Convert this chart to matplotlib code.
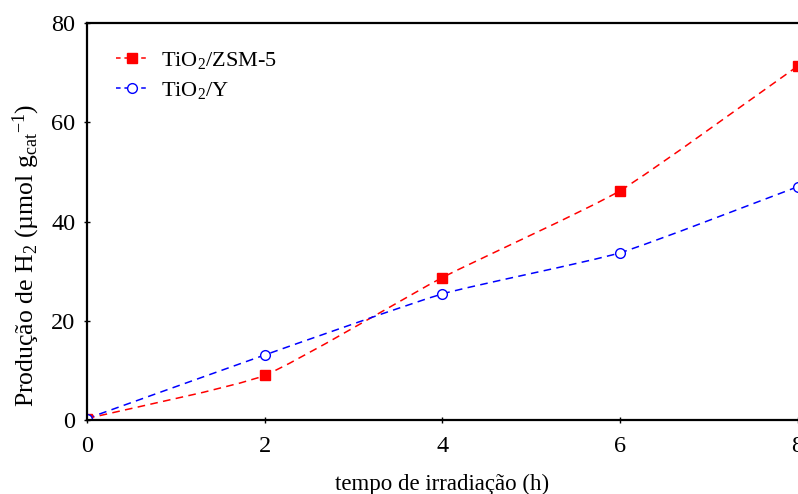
import numpy as np
import matplotlib
matplotlib.use('Agg')
import matplotlib.pyplot as plt
from matplotlib.path import Path
from matplotlib.patches import PathPatch
from matplotlib.lines import Line2D

# ── 数据 ──────────────────────────────────────────────
tempo = [0, 2, 4, 6, 8]
zsm5 = [0.3, 9.0, 28.7, 46.2, 71.3]
zeolita_y = [0.3, 13.1, 25.4, 33.7, 47.0]

x_ticks = [0, 2, 4, 6, 8]
y_ticks = [0, 20, 40, 60, 80]

plt.rcParams['font.family'] = ['Liberation Serif', 'DejaVu Serif']
plt.rcParams['mathtext.fontset'] = 'custom'
plt.rcParams['mathtext.rm'] = 'Liberation Serif'
plt.rcParams['mathtext.it'] = 'Liberation Serif:italic'


def smooth_path(xs, ys, k=12.0):
    """Catmull-Rom (tensão reduzida) -> Bezier (CURVE4)."""
    xs = np.asarray(xs, float)
    ys = np.asarray(ys, float)
    px = np.concatenate([[2 * xs[0] - xs[1]], xs, [2 * xs[-1] - xs[-2]]])
    py = np.concatenate([[2 * ys[0] - ys[1]], ys, [2 * ys[-1] - ys[-2]]])
    verts = [(xs[0], ys[0])]
    codes = [Path.MOVETO]
    for i in range(1, len(px) - 2):
        c1 = (px[i] + (px[i + 1] - px[i - 1]) / k, py[i] + (py[i + 1] - py[i - 1]) / k)
        c2 = (px[i + 1] - (px[i + 2] - px[i]) / k, py[i + 1] - (py[i + 2] - py[i]) / k)
        verts += [c1, c2, (px[i + 1], py[i + 1])]
        codes += [Path.CURVE4] * 3
    return Path(verts, codes)


fig = plt.figure(figsize=(7.98, 4.94), dpi=100)
ax = fig.add_axes([0.109, 0.1498, 0.8905, 0.8036])

for ys, cor in [(zsm5, 'red'), (zeolita_y, 'blue')]:
    patch = PathPatch(smooth_path(tempo, ys), facecolor='none', edgecolor=cor,
                      lw=1.1, linestyle=(0, (5, 3.5)))
    ax.add_patch(patch)

ax.plot(tempo, zsm5, linestyle='none', marker='s', ms=7, color='red', mec='red')
ax.plot(tempo, zeolita_y, linestyle='none', marker='o', ms=7, mfc='white', mec='blue', mew=1)

ax.set_xlim(0, 8)
ax.set_ylim(0, 80)
ax.set_xticks(x_ticks)
ax.set_yticks(y_ticks)
ax.tick_params(direction='inout', length=5, width=1, labelsize=17.5)
ax.tick_params(axis='x', pad=9)
ax.tick_params(axis='y', pad=6)
ax.spines['right'].set_visible(False)
for s in ['left', 'bottom', 'top']:
    ax.spines[s].set_linewidth(1.6)

ax.set_xlabel('tempo de irradiação (h)', fontsize=16.5, labelpad=12)
ax.set_ylabel('Produção de H$_2$ (µmol g$_{\\mathrm{cat}}$$^{-1}$)', fontsize=18.5, labelpad=4)
ax.yaxis.set_label_coords(-0.064, 0.415)

handles = [
    Line2D([], [], color='red', linestyle=(0, (3, 2.5)), lw=1.1, marker='s', ms=7),
    Line2D([], [], color='blue', linestyle=(0, (3, 2.5)), lw=1.1, marker='o', ms=7,
           mfc='white', mec='blue'),
]
ax.legend(handles, ['TiO$_2$/ZSM-5', 'TiO$_2$/Y'], loc='upper left', frameon=False,
          fontsize=16, handlelength=1.5, handletextpad=0.55, borderaxespad=0.0,
          labelspacing=0.42, bbox_to_anchor=(0.028, 0.955))

fig.savefig('out.png', dpi=100)
